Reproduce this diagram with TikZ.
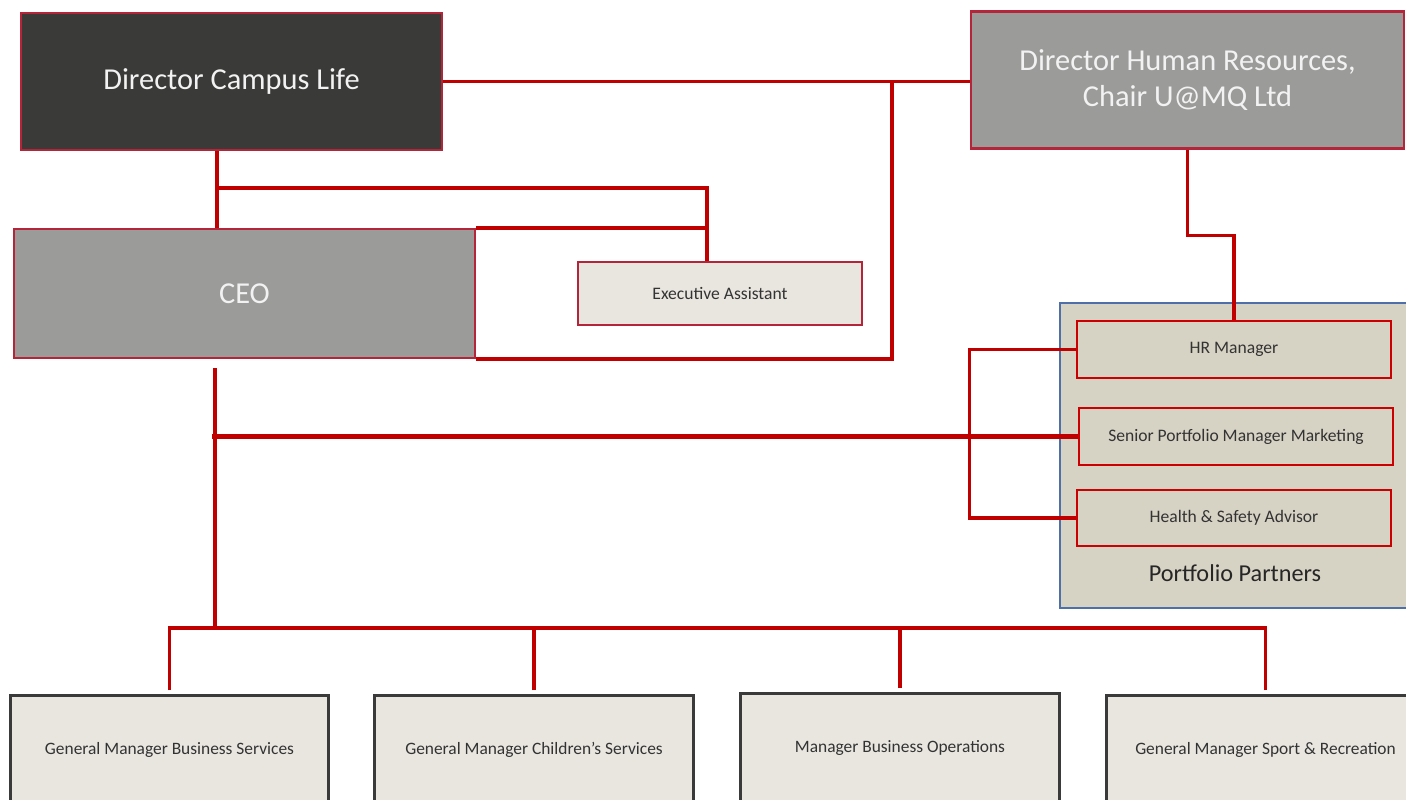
\documentclass[tikz,border=0pt]{standalone}
\usepackage{fontspec}
\setmainfont{Carlito}
\definecolor{linkred}{HTML}{C00000}
\definecolor{edgered}{HTML}{B5253A}
\definecolor{darkfill}{HTML}{3A3B38}
\definecolor{greyfill}{HTML}{9B9B9A}
\definecolor{paperfill}{HTML}{E9E6E0}
\definecolor{partnerfill}{HTML}{D6D2C4}
\definecolor{partnerblue}{HTML}{4F6FA8}
\definecolor{framegrey}{HTML}{3A3A3A}
\definecolor{inkgrey}{HTML}{333333}

\begin{document}
\begin{tikzpicture}[x=0.02cm, y=-0.02cm,
    link/.style={draw=linkred, line width=1.9pt},
    headbox/.style={rectangle, draw=edgered, line width=1.2pt, inner sep=0pt,
        text=white!95!black, align=center, font=\fontsize{17.3}{20.4}\selectfont},
    smallbox/.style={rectangle, draw=edgered, line width=0.9pt, inner sep=0pt,
        fill=paperfill, text=inkgrey, font=\fontsize{10}{12}\selectfont},
    partnerbox/.style={smallbox, draw=red!80!black, fill=partnerfill, font=\fontsize{10}{12}\selectfont},
    unitbox/.style={rectangle, draw=framegrey, line width=1.7pt, inner sep=0pt,
        fill=paperfill, text=inkgrey, minimum width=6.37cm, minimum height=2.18cm,
        font=\fontsize{9.9}{12}\selectfont}]
    \useasboundingbox (0,0) rectangle (1406,800);
    \clip (0,0) rectangle (1406,800);

    % Top of the chart
    \node[headbox, fill=darkfill, minimum width=8.42cm, minimum height=2.74cm] (campus) at (231.5,81.5) {Director Campus Life};
    \node[headbox, fill=greyfill, minimum width=8.66cm, minimum height=2.74cm] (hrdir) at (1187.5,80) {Director Human Resources,\\Chair U@MQ Ltd};
    \node[headbox, fill=greyfill, minimum width=9.22cm, minimum height=2.58cm] (ceo) at (244.5,293.5) {CEO};
    \node[smallbox, minimum width=5.68cm, minimum height=1.26cm] (assistant) at (720,293.5) {Executive Assistant};

    % Portfolio partners
    \node[rectangle, draw=partnerblue, line width=0.7pt, fill=partnerfill, minimum width=7.04cm, minimum height=6.1cm] (partners) at (1236,455.5) {};
    \node[font=\fontsize{13.8}{16}\selectfont, text=black!85] (partnerlabel) at (1235,573) {Portfolio Partners};
    \node[partnerbox, minimum width=6.28cm, minimum height=1.14cm] (hrman) at (1234,349.5) {HR Manager};
    \node[partnerbox, minimum width=6.28cm, minimum height=1.14cm] (senior) at (1236,436.5) {Senior Portfolio Manager Marketing};
    \node[partnerbox, minimum width=6.28cm, minimum height=1.12cm] (safety) at (1234,518) {Health \& Safety Advisor};

    % Units under the CEO
    \node[unitbox] (gmbus) at (169.5,750) {General Manager Business Services};
    \node[unitbox] (gmchild) at (534,750) {General Manager Children's Services};
    \node[unitbox] (mgrops) at (900,748) {Manager Business Operations};
    \node[unitbox] (gmsport) at (1265.5,750) {General Manager Sport \& Recreation};

    % Connectors
    \coordinate (trunk) at (217,188);
    \coordinate (eax) at (707,188);
    \coordinate (loopx) at (892,0);
    \coordinate (bus) at (215,628);

    \draw[link] (campus.east) -- (hrdir.west |- campus.east);
    \draw[link] (loopx |- campus.east) |- (ceo.south east);
    \draw[link] (trunk |- campus.south) -- (trunk |- ceo.north);
    \draw[link] (trunk) -- (eax) -- (eax |- assistant.north);
    \draw[link] (ceo.north east) -- (eax |- ceo.north);
    \draw[link] (hrdir.south) -- ++(0,86) -| (hrman.north);
    \draw[link] (ceo.south -| bus) ++(0,9) -- (bus);
    \draw[link, line width=2.4pt] (senior.west) -- (senior.west -| 212,0);
    \draw[link] (hrman.west) -- ++(-107,0) |- (safety.west);
    \foreach \unit in {gmbus, gmchild, mgrops, gmsport} {
        \draw[link] (\unit.north) ++(0,-4) |- (bus);
    }
\end{tikzpicture}
\end{document}
